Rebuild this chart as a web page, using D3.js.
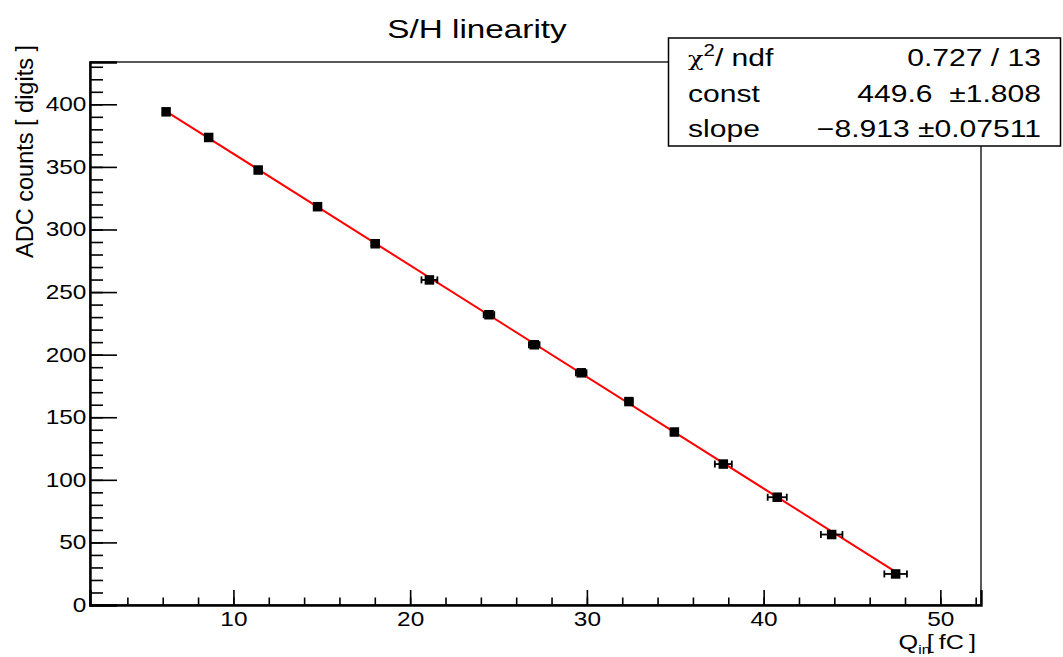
<!DOCTYPE html>
<html lang="en">
<head>
    <meta charset="UTF-8">
    <script src="https://d3js.org/d3.v7.min.js"></script>
    <title>S/H linearity</title>
    <style>
        body { margin: 0; background: #fff; }
        text { font-family: "Liberation Sans", Arial, sans-serif; fill: #000; }
    </style>
</head>
<body>
<div id="chart"></div>
<script>
    // measured points: charge in fC, ADC counts, x error
    let qIn = [6.19, 8.6, 11.4, 14.76, 18.02, 21.09, 24.46, 27.02, 29.68, 32.38, 34.95, 37.72, 40.77, 43.85, 47.47]
    let adc = [394.0, 373.5, 347.5, 318.2, 288.6, 259.7, 231.9, 207.9, 185.5, 162.5, 138.2, 112.6, 86.1, 56.3, 24.8]
    let qErr = [0.1, 0.1, 0.15, 0.2, 0.2, 0.45, 0.3, 0.3, 0.3, 0.2, 0.2, 0.48, 0.54, 0.61, 0.64]

    // fit result pol1
    let fitConst = 449.6
    let fitSlope = -8.913
    let statLabels = ["chi2", "const", "slope"]
    let statValues = ["0.727 / 13", "449.6  \u00b11.808", "\u22128.913 \u00b10.07511"]

    let xTicks = [10, 20, 30, 40, 50]
    let yTicks = [0, 50, 100, 150, 200, 250, 300, 350, 400]

    let width = 1063
    let height = 657
    let padL = 90, padR = 981, padT = 62, padB = 605

    let svg = d3.select("#chart").append("svg")
        .attr("width", width)
        .attr("height", height)

    let x = d3.scaleLinear().domain([1.885, 52.3]).range([padL, padR])
    let y = d3.scaleLinear().domain([0, 433.8]).range([padB, padT])

    // the root picture has text a bit wider than plain Arial
    function label(px, py, str, size, anchor, sx) {
        return svg.append("g")
            .attr("transform", `translate(${px},${py}) scale(${sx},1)`)
            .append("text")
            .attr("text-anchor", anchor)
            .attr("font-size", size)
            .style("white-space", "pre")
            .text(str)
    }

    // frame
    svg.append("rect")
        .attr("x", padL).attr("y", padT)
        .attr("width", padR - padL).attr("height", padB - padT)
        .attr("fill", "none").attr("stroke", "black").attr("stroke-width", 1.3)

    // y axis, ticks pointing inward
    let yMinor = d3.range(0, 431, 10)
    svg.append("g")
        .attr("transform", `translate(${padL},0)`)
        .call(d3.axisLeft(y).tickValues(yMinor).tickSize(-13).tickFormat(""))
        .call(g => g.select(".domain").remove())
    let yAxis = svg.append("g")
        .attr("transform", `translate(${padL},0)`)
        .call(d3.axisLeft(y).tickValues(yTicks).tickSize(-27).tickPadding(3))
    yAxis.select(".domain").attr("stroke-width", 2.4)
    yAxis.selectAll("text").attr("font-size", 20).attr("font-family", "Liberation Sans")
        .attr("transform", "scale(1.22,1)")

    // x axis
    let xMinor = d3.range(4, 53, 2)
    svg.append("g")
        .attr("transform", `translate(0,${padB})`)
        .call(d3.axisBottom(x).tickValues(xMinor).tickSize(-7.5).tickFormat(""))
        .call(g => g.select(".domain").remove())
    let xAxis = svg.append("g")
        .attr("transform", `translate(0,${padB})`)
        .call(d3.axisBottom(x).tickValues(xTicks).tickSize(-15).tickPadding(7))
    xAxis.select(".domain").attr("stroke-width", 2.4)
    xAxis.selectAll("text").attr("font-size", 20).attr("font-family", "Liberation Sans")
        .attr("transform", "scale(1.22,1)")
    svg.selectAll(".tick line").attr("stroke-width", 1.6)

    // axis titles
    let xt = label(976, 649, "", 21, "end", 1.2)
    xt.append("tspan").text("Q")
    xt.append("tspan").attr("dy", 5).attr("font-size", 13).text("in")
    xt.append("tspan").attr("dy", -5).attr("dx", -3).text("[\u2009fC\u2009]")

    svg.append("text")
        .attr("transform", "translate(33,45) rotate(-90)")
        .attr("text-anchor", "end")
        .attr("font-size", 23.5)
        .text("ADC counts [ digits ]")

    // title
    label(477, 38, "S/H linearity", 26, "middle", 1.28)

    // fit line
    let xFit = d3.extent(qIn)
    svg.append("line")
        .attr("x1", x(xFit[0])).attr("y1", y(fitConst + fitSlope * xFit[0]))
        .attr("x2", x(xFit[1])).attr("y2", y(fitConst + fitSlope * xFit[1]))
        .attr("stroke", "red").attr("stroke-width", 2)

    let pts = qIn.map((q, i) => ({q: q, v: adc[i], e: qErr[i]}))

    // error bars
    let eb = svg.append("g").attr("stroke", "black").attr("stroke-width", 1.8)
    eb.selectAll(".bar").data(pts).join("line")
        .attr("x1", d => x(d.q - d.e)).attr("x2", d => x(d.q + d.e))
        .attr("y1", d => y(d.v)).attr("y2", d => y(d.v))
    eb.selectAll(".capl").data(pts).join("line")
        .attr("x1", d => x(d.q - d.e)).attr("x2", d => x(d.q - d.e))
        .attr("y1", d => y(d.v) - 3.5).attr("y2", d => y(d.v) + 3.5)
    eb.selectAll(".capr").data(pts).join("line")
        .attr("x1", d => x(d.q + d.e)).attr("x2", d => x(d.q + d.e))
        .attr("y1", d => y(d.v) - 3.5).attr("y2", d => y(d.v) + 3.5)

    // markers
    svg.append("g").selectAll("rect").data(pts).join("rect")
        .attr("x", d => x(d.q) - 4.75).attr("y", d => y(d.v) - 4.75)
        .attr("width", 9.5).attr("height", 9.5)
        .attr("fill", "black")

    // stats box
    svg.append("rect")
        .attr("x", 668.5).attr("y", 38)
        .attr("width", 392).attr("height", 108)
        .attr("fill", "white").attr("stroke", "black").attr("stroke-width", 1.5)
    let rowY = [66, 101.5, 137]
    statLabels.forEach((lab, i) => {
        if (lab === "chi2") {
            let t = svg.append("g")
                .attr("transform", `translate(688,${rowY[i]}) scale(1.28,1)`)
                .append("text").attr("font-size", 23.5)
            t.append("tspan").attr("font-family", "DejaVu Serif").attr("font-size", 20).text("\u03c7")
            t.append("tspan").attr("dy", -10).attr("font-size", 16).text("2")
            t.append("tspan").attr("dy", 10).text("/ ndf")
        } else {
            label(688, rowY[i], lab, 23.5, "start", 1.28)
        }
        label(1041, rowY[i], statValues[i], 23.5, "end", 1.28)
    })
</script>
</body>
</html>
